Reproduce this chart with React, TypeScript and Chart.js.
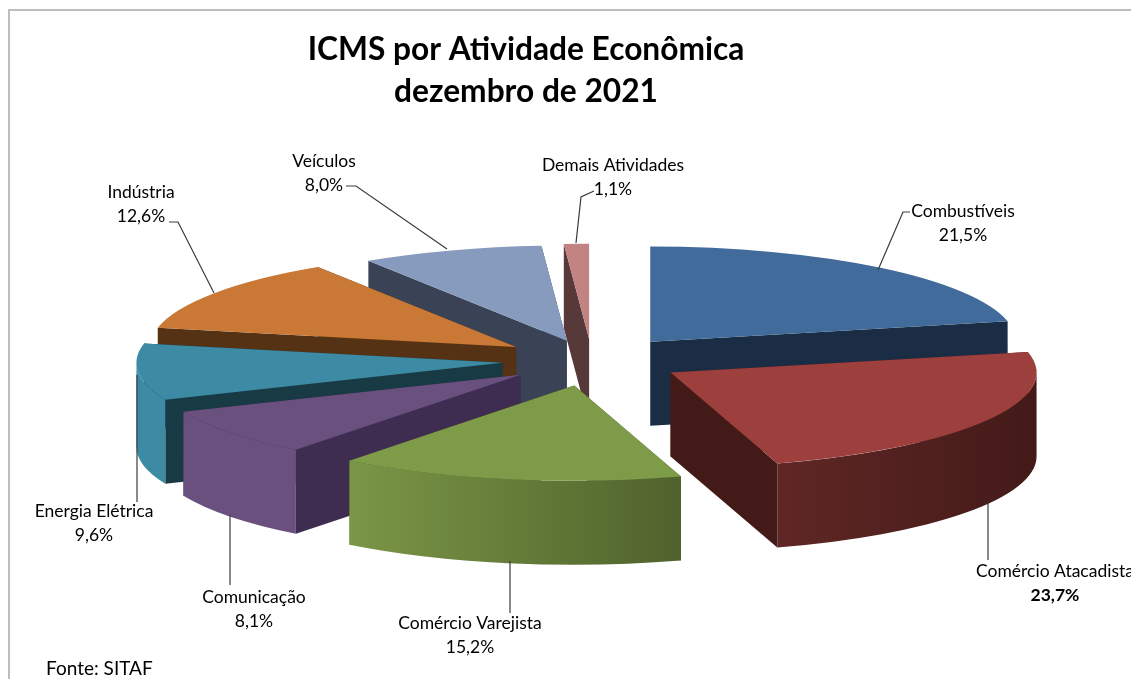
import React, { useEffect, useRef } from "react";
import { Chart, registerables } from "chart.js";

Chart.register(...registerables);

const titleLines = ["ICMS por Atividade Econômica", "dezembro de 2021"];
const sourceNote = "Fonte: SITAF";
const categories = ["Combustíveis", "Comércio Atacadista", "Comércio Varejista", "Comunicação", "Energia Elétrica", "Indústria", "Veículos", "Demais Atividades"];
const shares = [21.5, 23.7, 15.2, 8.1, 9.6, 12.6, 8.0, 1.1];
const shareLabels = ["21,5%", "23,7%", "15,2%", "8,1%", "9,6%", "12,6%", "8,0%", "1,1%"];

const topColors = ["#416b9b", "#9c3f3d", "#7d9b48", "#69507f", "#3c8aa3", "#c97935", "#879bbf", "#c38383"];
const wallColors = ["#1a2d44", "#431a18", "#4f622c", "#3e2d50", "#183a44", "#563214", "#3a4255", "#563938"];
const outerLeft = ["#1a2d44", "#5f2725", "#7b9646", "#69507f", "#3c8aa3", "#563214", "#3a4255", "#563938"];
const outerRight = ["#1a2d44", "#431a18", "#4f622c", "#69507f", "#3c8aa3", "#563214", "#3a4255", "#563938"];
const explodePx = [93, 91, 98, 90, 90, 92, 80, 83];
const drawOrder = [6, 7, 5, 0, 4, 3, 1, 2];

const RADIUS = 366;
const SQUASH = 0.26;
const DEPTH = 84;
const FONT = "Lato, Carlito, sans-serif";

// label centre x, name baseline y, value baseline y, leader polyline
const labelLayout = [
  { x: 963, y1: 217, y2: 241, leader: [[878, 270], [903, 212], [910, 212]] },
  { x: 1055, y1: 577, y2: 601, leader: [[988, 503], [988, 560]] },
  { x: 470, y1: 629, y2: 653, leader: [[510, 561], [510, 613]] },
  { x: 254, y1: 603, y2: 627, leader: [[230, 515], [230, 585]] },
  { x: 94, y1: 517, y2: 541, leader: [[137, 375], [137, 502]] },
  { x: 141, y1: 198, y2: 222, leader: [[214, 293], [178, 222], [169, 222]] },
  { x: 324, y1: 167, y2: 191, leader: [[447, 249], [356, 186], [346, 186]] },
  { x: 613, y1: 171, y2: 195, leader: [[576, 243], [581, 197], [594, 191]] },
];

const pie3d = {
  id: "pie3d",
  beforeDatasetsDraw(chart: any) {
    const ctx = chart.ctx as CanvasRenderingContext2D;
    const arcs = chart.getDatasetMeta(0).data as any[];
    const cy = arcs[0].y;
    for (const i of drawOrder) {
      const arc = arcs[i];
      const mid = (arc.startAngle + arc.endAngle) / 2;
      const dx = Math.cos(mid) * explodePx[i];
      const dy = Math.sin(mid) * explodePx[i];
      const ax = arc.x + dx;
      const ay = cy + dy * SQUASH;
      const R = arc.outerRadius;
      ctx.fillStyle = wallColors[i];
      for (const a of [arc.startAngle, arc.endAngle]) {
        const rx = ax + Math.cos(a) * R;
        const ry = ay + Math.sin(a) * R * SQUASH;
        ctx.beginPath();
        ctx.moveTo(ax, ay);
        ctx.lineTo(rx, ry);
        ctx.lineTo(rx, ry + DEPTH);
        ctx.lineTo(ax, ay + DEPTH);
        ctx.closePath();
        ctx.fill();
      }
      const a0 = Math.max(arc.startAngle, 0);
      const a1 = Math.min(arc.endAngle, Math.PI);
      if (a1 > a0) {
        const xs = [ax + Math.cos(a0) * R, ax + Math.cos(a1) * R];
        const g = ctx.createLinearGradient(Math.min(...xs), 0, Math.max(...xs), 0);
        g.addColorStop(0, outerLeft[i]);
        g.addColorStop(1, outerRight[i]);
        ctx.fillStyle = g;
        ctx.beginPath();
        ctx.ellipse(ax, ay + DEPTH, R, R * SQUASH, 0, a0, a1);
        ctx.ellipse(ax, ay, R, R * SQUASH, 0, a1, a0, true);
        ctx.closePath();
        ctx.fill();
      }
      ctx.save();
      ctx.translate(dx, cy + dy * SQUASH);
      ctx.scale(1, SQUASH);
      ctx.translate(0, -cy);
      arc.draw(ctx);
      ctx.restore();
    }
    return false;
  },
  afterDraw(chart: any) {
    const ctx = chart.ctx as CanvasRenderingContext2D;
    ctx.save();
    // frame
    ctx.strokeStyle = "#bdbdbd";
    ctx.lineWidth = 2;
    ctx.beginPath();
    ctx.moveTo(9, 679);
    ctx.lineTo(9, 10);
    ctx.lineTo(1131, 10);
    ctx.stroke();
    // leaders
    ctx.strokeStyle = "#3a3a3a";
    ctx.lineWidth = 1.2;
    labelLayout.forEach((l) => {
      ctx.beginPath();
      l.leader.forEach(([x, y], k) => (k ? ctx.lineTo(x, y) : ctx.moveTo(x, y)));
      ctx.stroke();
    });
    // text
    ctx.fillStyle = "#000";
    ctx.textAlign = "center";
    ctx.textBaseline = "alphabetic";
    ctx.font = `bold 31.7px ${FONT}`;
    ctx.fillText(titleLines[0], 526, 60);
    ctx.fillText(titleLines[1], 526, 102);
    categories.forEach((name, i) => {
      const l = labelLayout[i];
      ctx.font = `17.5px ${FONT}`;
      ctx.fillText(name, l.x, l.y1);
      ctx.font = `${i === 1 ? "bold " : ""}17.5px ${FONT}`;
      ctx.fillText(shareLabels[i], l.x, l.y2);
    });
    ctx.textAlign = "left";
    ctx.font = `19px ${FONT}`;
    ctx.fillText(sourceNote, 46, 675);
    ctx.restore();
  },
};

export default function App() {
  const ref = useRef<HTMLCanvasElement>(null);
  useEffect(() => {
    const chart = new Chart(ref.current!, {
      type: "pie",
      data: {
        labels: categories,
        datasets: [
          {
            data: shares,
            backgroundColor: topColors,
            borderWidth: 0,
          },
        ],
      },
      options: {
        animation: false,
        responsive: false,
        events: [],
        radius: RADIUS,
        layout: { padding: { left: 53, top: 42 } },
        plugins: { legend: { display: false }, tooltip: { enabled: false }, title: { display: false } },
      } as any,
      plugins: [pie3d as any],
    });
    return () => chart.destroy();
  }, []);
  return (
    <div style={{ position: "fixed", left: 0, top: 0, width: 1131, height: 679, background: "#fff", overflow: "hidden" }}>
      <canvas ref={ref} width={1131} height={679} style={{ display: "block", filter: "blur(0.4px)" }} />
    </div>
  );
}
